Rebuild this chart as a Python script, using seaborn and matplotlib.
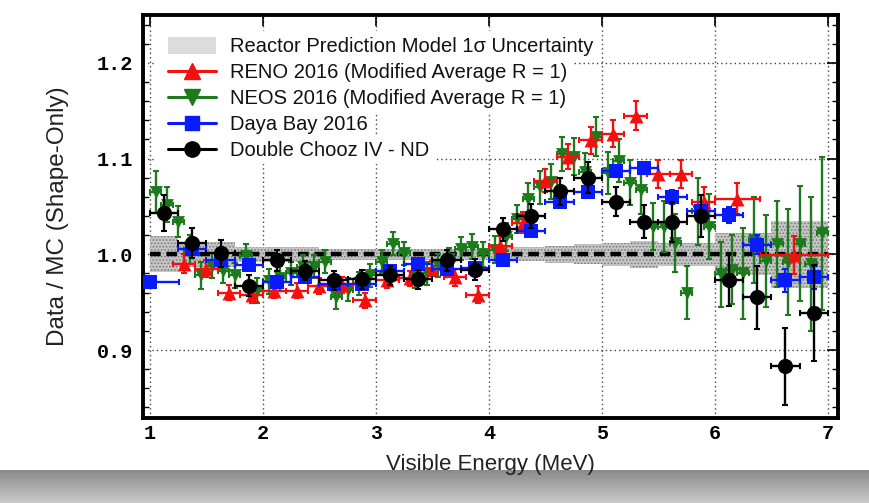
import numpy as np
import matplotlib
matplotlib.use("Agg")
import matplotlib.pyplot as plt
import seaborn as sns
from matplotlib.lines import Line2D
from matplotlib.patches import Patch, Rectangle
from matplotlib.ticker import MultipleLocator, FormatStrFormatter
from matplotlib.colors import LinearSegmentedColormap

# ---------------- data ----------------
band_edges = [1.0, 1.25, 1.75, 2.5, 4.0, 4.5, 4.75, 5.0, 5.25, 5.5, 6.0, 6.5, 7.0]
band_half = [0.019, 0.013, 0.008, 0.006, 0.0075, 0.0087, 0.0105, 0.012, 0.014, 0.012, 0.022, 0.035]

reno_E = [1.3, 1.5, 1.7, 1.9, 2.1, 2.3, 2.5, 2.7, 2.9, 3.1, 3.3, 3.5, 3.7, 3.9,
          4.1, 4.3, 4.5, 4.7, 4.9, 5.1, 5.3, 5.5, 5.7, 5.9, 6.2, 6.7]
reno_R = [0.990, 0.985, 0.960, 0.957, 0.962, 0.962, 0.967, 0.968, 0.952, 0.973, 0.975, 0.985, 0.976, 0.958,
          1.009, 1.033, 1.077, 1.102, 1.119, 1.126, 1.145, 1.084, 1.084, 1.055, 1.058, 0.999]
reno_xerr = [0.1, 0.1, 0.1, 0.1, 0.1, 0.1, 0.1, 0.1, 0.1, 0.1, 0.1, 0.1, 0.1, 0.1,
             0.1, 0.1, 0.1, 0.1, 0.1, 0.1, 0.1, 0.1, 0.1, 0.1, 0.2, 0.3]
reno_yerr = [0.010, 0.009, 0.008, 0.008, 0.008, 0.008, 0.008, 0.008, 0.008, 0.008, 0.008, 0.008, 0.009, 0.009,
             0.010, 0.011, 0.012, 0.013, 0.014, 0.014, 0.015, 0.015, 0.015, 0.015, 0.016, 0.020]

neos_E = [1.05, 1.15, 1.25, 1.35, 1.45, 1.55, 1.65, 1.75, 1.85, 1.95,
          2.05, 2.15, 2.25, 2.35, 2.45, 2.55, 2.65, 2.75, 2.85, 2.95,
          3.05, 3.15, 3.25, 3.35, 3.45, 3.55, 3.65, 3.75, 3.85, 3.95,
          4.05, 4.15, 4.25, 4.35, 4.45, 4.55, 4.65, 4.75, 4.85, 4.95,
          5.05, 5.15, 5.25, 5.35, 5.45, 5.55, 5.65, 5.75, 5.85, 5.95,
          6.05, 6.15, 6.25, 6.35, 6.45, 6.55, 6.65, 6.75, 6.85, 6.95]
neos_R = [1.065, 1.052, 1.034, 1.005, 0.978, 0.988, 0.983, 0.978, 0.998, 0.962,
          0.972, 0.975, 0.980, 0.987, 0.987, 0.992, 0.955, 0.963, 0.970, 0.978,
          0.992, 1.011, 1.001, 0.977, 0.980, 0.988, 0.995, 1.006, 1.008, 1.000,
          1.005, 1.018, 1.037, 1.058, 1.070, 1.076, 1.105, 1.102, 1.086, 1.123,
          1.085, 1.098, 1.075, 1.067, 1.029, 1.029, 1.012, 0.960, 1.045, 1.029,
          0.979, 0.984, 0.980, 1.015, 0.993, 1.011, 0.992, 1.011, 0.990, 1.022]
neos_yerr = [0.022, 0.018, 0.016, 0.015, 0.014, 0.013, 0.013, 0.013, 0.013, 0.013,
             0.013, 0.013, 0.012, 0.012, 0.012, 0.012, 0.012, 0.012, 0.012, 0.012,
             0.012, 0.012, 0.012, 0.012, 0.012, 0.012, 0.012, 0.012, 0.013, 0.013,
             0.014, 0.015, 0.015, 0.016, 0.017, 0.018, 0.018, 0.019, 0.020, 0.020,
             0.022, 0.022, 0.024, 0.025, 0.025, 0.027, 0.030, 0.028, 0.035, 0.034,
             0.034, 0.036, 0.048, 0.045, 0.048, 0.045, 0.055, 0.060, 0.070, 0.080]
neos_xerr = 0.05

db_E = [1.0, 1.375, 1.625, 1.875, 2.125, 2.375, 2.625, 2.875, 3.125, 3.375, 3.625, 3.875,
        4.125, 4.375, 4.625, 4.875, 5.125, 5.375, 5.625, 5.875, 6.125, 6.375, 6.625, 6.875]
db_R = [0.971, 1.006, 0.994, 0.989, 0.971, 0.976, 0.969, 0.969, 0.983, 0.990, 0.985, 0.986,
        0.994, 1.024, 1.055, 1.065, 1.087, 1.090, 1.060, 1.045, 1.041, 1.010, 0.973, 0.976]
db_xerr = [0.26, 0.125, 0.125, 0.125, 0.125, 0.125, 0.125, 0.125, 0.125, 0.125, 0.125, 0.125,
           0.125, 0.125, 0.125, 0.125, 0.125, 0.125, 0.125, 0.125, 0.125, 0.125, 0.125, 0.125]
db_yerr = [0.006, 0.005, 0.005, 0.005, 0.005, 0.005, 0.005, 0.005, 0.005, 0.005, 0.005, 0.005,
           0.005, 0.005, 0.005, 0.006, 0.006, 0.006, 0.007, 0.007, 0.008, 0.010, 0.012, 0.012]

dc_E = [1.125, 1.375, 1.625, 1.875, 2.125, 2.375, 2.625, 2.875, 3.125, 3.375, 3.625, 3.875,
        4.125, 4.375, 4.625, 4.875, 5.125, 5.375, 5.625, 5.875, 6.125, 6.375, 6.625, 6.875]
dc_R = [1.043, 1.012, 1.001, 0.967, 0.994, 0.983, 0.973, 0.974, 0.978, 0.974, 0.994, 0.984,
        1.026, 1.040, 1.066, 1.080, 1.055, 1.034, 1.034, 1.040, 0.973, 0.955, 0.883, 0.939]
dc_yerr = [0.019, 0.016, 0.014, 0.011, 0.011, 0.010, 0.010, 0.010, 0.010, 0.010, 0.011, 0.011,
           0.012, 0.013, 0.014, 0.016, 0.015, 0.017, 0.021, 0.022, 0.027, 0.033, 0.040, 0.050]
dc_xerr = 0.125

y_ticks = [0.9, 1.0, 1.1, 1.2]
x_ticks = [1, 2, 3, 4, 5, 6, 7]

labels = ["Reactor Prediction Model 1\u03c3 Uncertainty",
          "RENO 2016 (Modified Average R = 1)",
          "NEOS 2016 (Modified Average R = 1)",
          "Daya Bay 2016",
          "Double Chooz IV - ND"]

RED, GREEN, BLUE, BLACK = "#f50f0f", "#1c7a1c", "#0a1aff", "#000000"

# ---------------- style ----------------
sns.set_theme(style="white")
plt.rcParams["font.family"] = ["Liberation Sans", "DejaVu Sans"]
plt.rcParams["hatch.linewidth"] = 0.8

fig = plt.figure(figsize=(8.69, 5.03), dpi=100)
fig.patch.set_facecolor("white")

# bottom shadow strip of the card
bg = fig.add_axes([0, 0, 1, 33 / 503], zorder=-5)
bg.imshow(np.linspace(0, 1, 60)[:, None], aspect="auto",
          cmap=LinearSegmentedColormap.from_list("g", ["#8a8a8a", "#cbcbcb"]),
          extent=[0, 1, 0, 1])
bg.axis("off")

ax = fig.add_axes([143 / 869, 1 - 418 / 503, 695 / 869, 403 / 503])
ax.set_facecolor("white")

# prediction band
upper = [1 + h for h in band_half]
lower = [1 - h for h in band_half]
ax.stairs(upper, band_edges, baseline=lower, fill=True, facecolor="#c6c6c6",
          edgecolor="#7c7c7c", hatch=".....", linewidth=0, zorder=1)
ax.hlines(1.0, band_edges[0], band_edges[-1], colors="black", linewidth=3.2,
          linestyles=(0, (2.4, 1.3)), zorder=2)

ekw = dict(fmt="none", elinewidth=1.7, capsize=2.2, capthick=1.5)
# NEOS
ax.errorbar(neos_E, neos_R, xerr=neos_xerr, yerr=neos_yerr, ecolor=GREEN, zorder=3, **ekw)
sns.scatterplot(x=neos_E, y=neos_R, marker="v", s=85, color=GREEN, edgecolor=GREEN,
                linewidth=0, ax=ax, zorder=4, legend=False)
# RENO
ax.errorbar(reno_E, reno_R, xerr=reno_xerr, yerr=reno_yerr, ecolor=RED, zorder=5, **ekw)
sns.scatterplot(x=reno_E, y=reno_R, marker="^", s=100, color=RED, edgecolor=RED,
                linewidth=0, ax=ax, zorder=6, legend=False)
# Daya Bay
ax.errorbar(db_E, db_R, xerr=db_xerr, yerr=db_yerr, ecolor=BLUE, zorder=7, **ekw)
sns.scatterplot(x=db_E, y=db_R, marker="s", s=100, color=BLUE, edgecolor=BLUE,
                linewidth=0, ax=ax, zorder=8, legend=False)
# Double Chooz
ax.errorbar(dc_E, dc_R, xerr=dc_xerr, yerr=dc_yerr, ecolor=BLACK, zorder=9, **ekw)
sns.scatterplot(x=dc_E, y=dc_R, marker="o", s=120, color=BLACK, edgecolor=BLACK,
                linewidth=0, ax=ax, zorder=10, legend=False)

# axes
ax.set_xlim(0.938, 7.09)
ax.set_ylim(0.829, 1.25)
ax.set_xticks(x_ticks)
ax.set_yticks(y_ticks)
ax.yaxis.set_minor_locator(MultipleLocator(0.02))
ax.yaxis.set_major_formatter(FormatStrFormatter("%.1f"))
ax.tick_params(axis="both", which="major", direction="in", top=True, right=True,
               length=8, width=1.2, color="black", labelsize=14.5, labelcolor="black")
ax.tick_params(axis="y", which="minor", direction="in", left=True, right=True,
               length=4, width=1.0, color="black")
ax.tick_params(axis="x", which="major", pad=4)
ax.tick_params(axis="y", which="major", pad=7)
for lbl in ax.get_xticklabels() + ax.get_yticklabels():
    lbl.set_fontfamily(["Liberation Mono", "DejaVu Sans Mono"])
    lbl.set_fontweight("bold")

ax.grid(True, which="major", linestyle=(0, (1, 2.2)), color="#444444", linewidth=1.0, zorder=0)
ax.set_axisbelow(True)
for sp in ax.spines.values():
    sp.set_linewidth(2.8)
    sp.set_color("black")

ax.set_xlabel("Visible Energy (MeV)", fontsize=16, color="#222222", labelpad=8)
ax.set_ylabel("Data / MC (Shape-Only)", fontsize=17.5, color="#222222", labelpad=20)

handles = [
    Patch(facecolor="#dcdcdc", edgecolor="none"),
    Line2D([], [], color=RED, marker="^", markersize=11, linewidth=2.2),
    Line2D([], [], color=GREEN, marker="v", markersize=11, linewidth=2.2),
    Line2D([], [], color=BLUE, marker="s", markersize=10.5, linewidth=2.2),
    Line2D([], [], color=BLACK, marker="o", markersize=11, linewidth=2.2),
]
leg = ax.legend(handles, labels, loc="upper left", bbox_to_anchor=(0.024, 0.965),
                borderaxespad=0, borderpad=0.4, fontsize=14.5, labelspacing=0.33,
                handlelength=2.4, handleheight=0.9, handletextpad=0.7,
                frameon=False)
leg.set_zorder(20)
for t in leg.get_texts():
    t.set_color("#111111")

# white background behind each legend row (row-wise, so gridlines show beside short rows)
fig.canvas.draw()
renderer = fig.canvas.get_renderer()
leg_bb = leg.get_window_extent(renderer)
inv = fig.transFigure.inverted()
texts = leg.get_texts()
row_bbs = [t.get_window_extent(renderer) for t in texts]
for i, bb in enumerate(row_bbs):
    half_gap_top = 6 if i == 0 else (row_bbs[i - 1].y0 - bb.y1) / 2 + 0.5
    half_gap_bot = 4 if i == len(row_bbs) - 1 else (bb.y0 - row_bbs[i + 1].y1) / 2 + 0.5
    x0, y0 = leg_bb.x0 - 4, bb.y0 - half_gap_bot
    x1, y1 = bb.x1 + 5, bb.y1 + half_gap_top
    (fx0, fy0), (fx1, fy1) = inv.transform([(x0, y0), (x1, y1)])
    ax.add_patch(Rectangle((fx0, fy0), fx1 - fx0, fy1 - fy0, transform=fig.transFigure,
                           facecolor="white", edgecolor="none", zorder=15))

fig.savefig("out.png", dpi=100, facecolor=fig.get_facecolor())
